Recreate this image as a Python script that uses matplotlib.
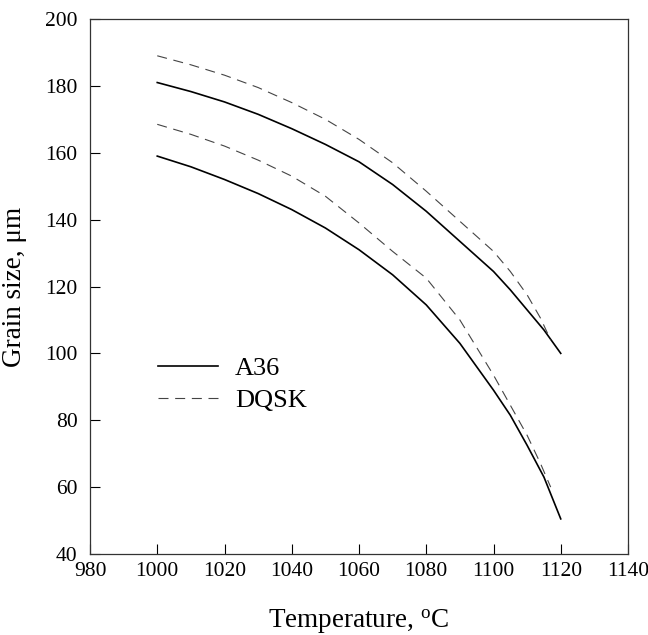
import matplotlib
matplotlib.use("Agg")
import matplotlib.pyplot as plt

# (temperature in C, grain size in um)
temp = [1000, 1010, 1020, 1030, 1040, 1050, 1060, 1070, 1080, 1090, 1100, 1105, 1110, 1115, 1120]
a36_upper = [181, 178.3, 175.2, 171.5, 167.2, 162.5, 157.3, 150.5, 142.5, 133.5, 124.5, 119, 113, 107, 100]
a36_lower = [159, 155.8, 152, 147.8, 143, 137.5, 131, 123.5, 114.5, 103, 89, 81.5, 72.5, 63, 50.5]

temp_dq = [1000, 1010, 1020, 1030, 1040, 1050, 1060, 1070, 1080, 1090, 1100, 1105, 1110, 1114, 1117]
dqsk_upper = [189, 186.3, 183.2, 179.5, 175, 170, 164, 157, 148.5, 139.5, 130.5, 124.5, 117.5, 110.5, 104]
dqsk_lower = [168.5, 165.5, 162, 157.8, 153, 147, 139, 130.5, 122.5, 110, 93.5, 84.5, 75.5, 67, 60]

xticks = list(range(980, 1141, 20))
yticks = list(range(40, 201, 20))

plt.rcParams['font.family'] = ['Liberation Serif', 'DejaVu Serif']

fig = plt.figure(figsize=(6.48, 6.35), dpi=100)
ax = fig.add_axes([90/648, 1 - 554/635, 538/648, 535/635])

ax.plot(temp, a36_upper, color='black', lw=1.2, label='A36')
ax.plot(temp, a36_lower, color='black', lw=1.2)
ax.plot(temp_dq, dqsk_upper, color='#444444', lw=0.8, dashes=[9, 6], label='DQSK')
ax.plot(temp_dq, dqsk_lower, color='#444444', lw=0.8, dashes=[9, 6])

ax.set_xlim(980, 1140)
ax.set_ylim(40, 200)
ax.set_xticks(xticks)
ax.set_yticks(yticks)
ax.tick_params(axis='both', direction='in', length=7, width=0.8, labelsize=15.5, colors='black')
ax.tick_params(axis='x', pad=6)
ax.tick_params(axis='y', pad=9)
for s in ax.spines.values():
    s.set_linewidth(0.9)
    s.set_color('#333333')

ax.set_xlabel('Temperature, $\\mathregular{^{o}}$C', fontsize=19.5, labelpad=19)
ax.set_ylabel('Grain size, \u03bcm', fontsize=19.5, labelpad=13)

ax.legend(loc='center left', bbox_to_anchor=((158 - 90) / 538, (554 - 384.5) / 535),
          frameon=False, fontsize=19, handlelength=2.27, handletextpad=0.64,
          labelspacing=0.33, borderpad=0, borderaxespad=0)

fig.savefig('out.png', dpi=100)
